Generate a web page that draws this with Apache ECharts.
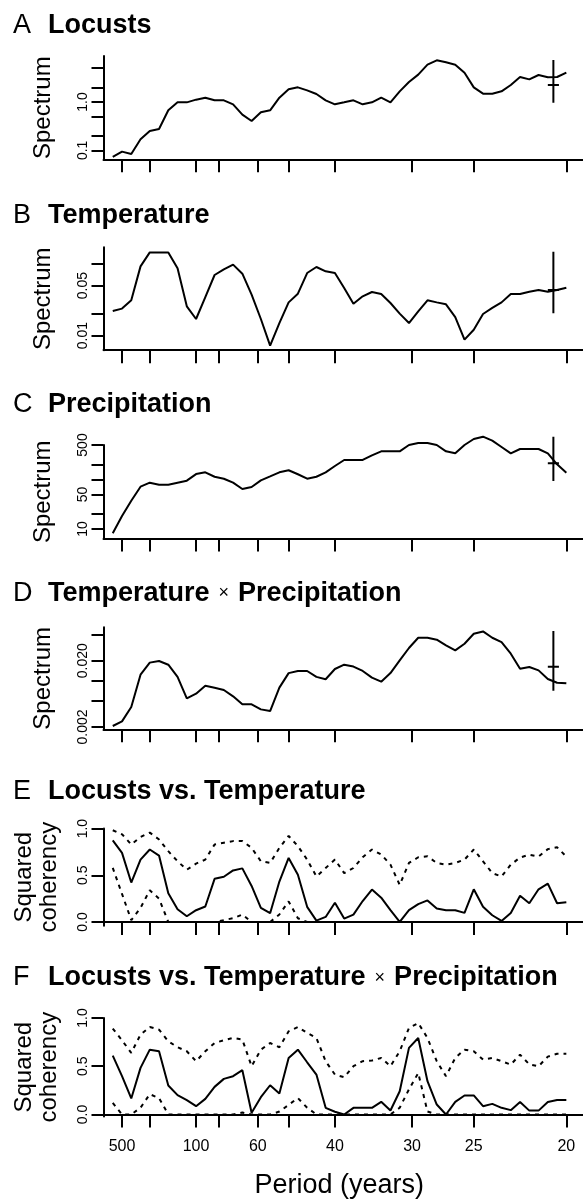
<!DOCTYPE html>
<html lang="en">
<head>
    <meta charset="UTF-8">
    <title>Spectra and coherency</title>
    <script src="https://cdn.jsdelivr.net/npm/echarts@6.0.0/dist/echarts.min.js"></script>
    <style>
        *{
            padding:0;
            margin:0;
        }
        html,body{
            width:583px;
            height:1201px;
            background:#fff;
        }
        #main{
            width:583px;
            height:1201px;
        }
    </style>
</head>
<body>
<div id="main"></div>
<script>
    // frequency (cycles / year) of each estimate
    var freq = [0.001,0.002,0.003,0.004,0.005,0.006,0.007,0.008,0.009,0.010,
        0.011,0.012,0.013,0.014,0.015,0.016,0.017,0.018,0.019,0.020,
        0.021,0.022,0.023,0.024,0.025,0.026,0.027,0.028,0.029,0.030,
        0.031,0.032,0.033,0.034,0.035,0.036,0.037,0.038,0.039,0.040,
        0.041,0.042,0.043,0.044,0.045,0.046,0.047,0.048,0.049,0.050];

    // period ticks on the x axis (years)
    var periodTicks = [500, 200, 100, 80, 60, 50, 40, 30, 25, 20];
    var periodLabels = [500, 100, 60, 40, 30, 25, 20];

    // A - locusts spectrum
    var locusts = [0.073,0.094,0.084,0.169,0.251,0.276,0.673,0.984,0.984,1.118,
        1.229,1.083,1.083,0.895,0.547,0.404,0.611,0.673,1.229,1.828,
        2.01,1.743,1.464,1.083,0.895,0.984,1.083,0.895,0.984,1.229,
        0.984,1.662,2.59,3.68,5.92,7.28,6.62,5.92,4.04,2.01,
        1.487,1.487,1.662,2.25,3.29,2.94,3.62,3.24,3.29,4.04];
    // B - temperature spectrum
    var temperature = [0.0221,0.0239,0.0312,0.0931,0.146,0.146,0.146,0.0873,0.0257,0.0171,
        0.0347,0.0705,0.0846,0.0984,0.0736,0.0374,0.0171,0.00724,0.0150,0.0292,
        0.0386,0.0751,0.0912,0.0793,0.0751,0.0464,0.0280,0.0355,0.0408,0.0383,
        0.0286,0.0203,0.0150,0.0219,0.0312,0.0292,0.0274,0.0182,0.00879,0.0121,
        0.0201,0.0244,0.0292,0.0383,0.0383,0.0412,0.0435,0.0412,0.0435,0.0469];
    // C - precipitation spectrum
    var precipitation = [8.2,18.3,37.4,71.8,86.5,78.8,78.8,86.5,94.9,129,
        140,114,104,86.5,64.4,70.7,96.4,116,140,154,
        128,104,114,140,188,249,249,249,309,372,
        372,372,500,548,548,500,372,339,500,661,
        737,612,456,339,415,415,415,339,203,138];
    // D - temperature x precipitation spectrum
    var tempPrecip = [0.00207,0.00243,0.0040,0.0123,0.0187,0.0198,0.0174,0.0114,0.00541,0.00637,
        0.0084,0.00784,0.00723,0.0058,0.00439,0.00439,0.00369,0.00348,0.00784,0.0130,
        0.0140,0.0140,0.0114,0.0105,0.0150,0.0174,0.0163,0.0140,0.0111,0.00965,
        0.0130,0.0202,0.0311,0.0444,0.0444,0.0415,0.0341,0.0286,0.0361,0.0510,
        0.0553,0.0444,0.0382,0.0255,0.0151,0.0161,0.0143,0.0106,0.0093,0.0091];

    // confidence crosses of A-D: [low, centre, high]
    var ciFreq = 0.0486;
    var ciBandwidth = 0.0012;
    var ciLocusts = [0.967, 2.25, 7.4];
    var ciTemperature = [0.0206, 0.0435, 0.149];
    var ciPrecipitation = [93.5, 213, 736];
    var ciTempPrecip = [0.00705, 0.0162, 0.0561];

    // E - squared coherency locusts vs temperature, with upper/lower bounds
    var cohLT = [0.874,0.740,0.422,0.668,0.776,0.711,0.307,0.137,0.061,0.126,
        0.166,0.462,0.484,0.552,0.574,0.386,0.152,0.094,0.433,0.686,
        0.505,0.162,0.014,0.054,0.206,0.036,0.079,0.224,0.347,0.260,
        0.126,0.0,0.126,0.191,0.231,0.144,0.126,0.126,0.097,0.350,
        0.162,0.072,0.011,0.097,0.28,0.20,0.35,0.41,0.20,0.21];
    var upperLT = [0.982,0.939,0.830,0.910,0.957,0.884,0.758,0.650,0.560,0.625,
        0.668,0.830,0.848,0.866,0.866,0.794,0.650,0.632,0.794,0.921,
        0.812,0.668,0.487,0.578,0.668,0.523,0.578,0.693,0.776,0.722,
        0.614,0.397,0.632,0.693,0.704,0.632,0.614,0.632,0.668,0.776,
        0.650,0.523,0.487,0.614,0.69,0.72,0.70,0.78,0.80,0.70];
    var lowerLT = [0.58,0.30,0.02,0.15,0.34,0.25,0,0,0,0,
        0,0,0.02,0.04,0.08,0,0,0,0.08,0.22,
        0.04,0,0,0,0,0,0,0,0,0,
        0,0,0,0,0,0,0,0,0,0,
        0,0,0,0,0,0,0,0,0,0];

    // F - squared coherency locusts vs temperature x precipitation
    var cohLTP = [0.610,0.397,0.166,0.483,0.672,0.655,0.300,0.200,0.148,0.086,
        0.162,0.286,0.369,0.397,0.459,0.017,0.179,0.303,0.217,0.586,
        0.672,0.541,0.414,0.069,0.028,0.0,0.069,0.069,0.069,0.131,
        0.041,0.241,0.690,0.793,0.345,0.103,0.0,0.131,0.197,0.197,
        0.086,0.110,0.069,0.045,0.13,0.04,0.04,0.13,0.15,0.15];
    var upperLTP = [0.890,0.769,0.638,0.828,0.907,0.879,0.759,0.697,0.655,0.552,
        0.655,0.741,0.769,0.793,0.776,0.50,0.672,0.741,0.697,0.862,
        0.907,0.845,0.793,0.552,0.414,0.386,0.50,0.552,0.559,0.586,
        0.50,0.655,0.897,0.948,0.793,0.552,0.397,0.586,0.672,0.655,
        0.569,0.586,0.552,0.517,0.62,0.52,0.50,0.60,0.63,0.63];
    var lowerLTP = [0.12,0,0,0.07,0.21,0.17,0,0,0,0,
        0,0,0,0,0.02,0,0,0,0.03,0.10,
        0.17,0.07,0,0,0,0,0,0,0,0,
        0,0.07,0.26,0.43,0.03,0,0,0,0,0,
        0,0,0,0,0,0,0,0,0,0];

    var FONT = '"Liberation Sans", Arial, Helvetica, sans-serif';

    function pairs(ys) {
        return freq.map(function (f, i) { return [f, ys[i]]; });
    }

    var panels = [
        {letter:'A', text:'{t|Locusts}', titleTop:12.5, top:56, height:103.3,
            type:'log', min:0.0652, max:8.95, ticks:[0.1,0.2,0.5,1,2,5], labels:[0.1,1], digits:1,
            name:'Spectrum', line:locusts, ci:ciLocusts},
        {letter:'B', text:'{t|Temperature}', titleTop:202.5, top:247.3, height:102.9,
            type:'log', min:0.00626, max:0.172, ticks:[0.01,0.02,0.05,0.1], labels:[0.01,0.05], digits:2,
            name:'Spectrum', line:temperature, ci:ciTemperature},
        {letter:'C', text:'{t|Precipitation}', titleTop:391, top:445, height:93.5,
            type:'log', min:6.43, max:500, ticks:[10,20,50,100,200,500], labels:[10,50,500], digits:0,
            name:'Spectrum', line:precipitation, ci:ciPrecipitation},
        {letter:'D', text:'{t|Temperature}{x|\u00d7}{t|Precipitation}', titleTop:580, top:627.3, height:102,
            type:'log', min:0.001846, max:0.0638, ticks:[0.002,0.005,0.01,0.02,0.05], labels:[0.002,0.02], digits:3,
            name:'Spectrum', line:tempPrecip, ci:ciTempPrecip},
        {letter:'E', text:'{t|Locusts vs. Temperature}', titleTop:778.5, top:828.6, height:97.1,
            type:'value', min:-0.04, max:1.0, ticks:[0,0.5,1], labels:[0,0.5,1], digits:1,
            name:'Squared\ncoherency', line:cohLT, upper:upperLT, lower:lowerLT},
        {letter:'F', text:'{t|Locusts vs. Temperature}{x|\u00d7}{t|Precipitation}', titleTop:964.5, top:1018, height:98.4,
            type:'value', min:-0.02, max:1.0, ticks:[0,0.5,1], labels:[0,0.5,1], digits:1,
            name:'Squared\ncoherency', line:cohLTP, upper:upperLTP, lower:lowerLTP}
    ];

    var tickFreq = periodTicks.map(function (p) { return 1 / p; });
    var labelFreq = periodLabels.map(function (p) { return 1 / p; });

    var axisStyle = {color:'#000', width:2};
    var titles = [], grids = [], xAxes = [], yAxes = [], series = [];

    panels.forEach(function (p, i) {
        titles.push({
            left: 13, top: p.titleTop, padding: 0,
            text: '{l|' + p.letter + '}' + p.text,
            textStyle: {
                rich: {
                    l: {fontSize:27, fontWeight:'normal', color:'#000', fontFamily:FONT, width:35},
                    t: {fontSize:27, fontWeight:'bold', color:'#000', fontFamily:FONT},
                    x: {fontSize:18, fontWeight:'normal', color:'#000', fontFamily:FONT, padding:[0,9,0,9]}
                }
            }
        });
        grids.push({left:103.5, right:0, top:p.top, height:p.height});
        var last = i === panels.length - 1;
        xAxes.push({
            gridIndex:i, type:'value', min:0, max:0.0518,
            axisLine:{show:true, lineStyle:axisStyle},
            axisTick:{show:true, customValues:tickFreq, length:13, lineStyle:axisStyle},
            axisLabel:{show:last, customValues:labelFreq, margin:22, fontSize:16, color:'#000', fontFamily:FONT,
                formatter:function (v) { return String(Math.round(1 / v)); }},
            splitLine:{show:false},
            name: last ? 'Period (years)' : '', nameLocation:'middle', nameGap:56,
            nameTextStyle:{fontSize:27, color:'#000', fontFamily:FONT, padding:[0, 8, 0, 0]}
        });
        yAxes.push({
            gridIndex:i, type:p.type, min:p.min, max:p.max,
            axisLine:{show:true, lineStyle:axisStyle},
            axisTick:{show:true, customValues:p.ticks, length:12, lineStyle:axisStyle},
            axisLabel:{customValues:p.labels, rotate:90, margin:13, fontSize:14, color:'#000', fontFamily:FONT,
                formatter:(function (d) { return function (v) { return Number(v).toFixed(d); }; })(p.digits)},
            splitLine:{show:false},
            name:p.name, nameLocation:'middle', nameGap: p.upper ? 42 : 48,
            nameTextStyle:{fontSize:24, lineHeight:25, color:'#000', fontFamily:FONT}
        });
        var base = {type:'line', xAxisIndex:i, yAxisIndex:i, showSymbol:false, clip:false,
            silent:true, z:3, lineStyle:{color:'#000', width:2}};
        series.push(Object.assign({}, base, {data:pairs(p.line)}));
        if (p.ci) {
            series.push(Object.assign({}, base, {data:[[ciFreq, p.ci[0]], [ciFreq, p.ci[2]]]}));
            series.push(Object.assign({}, base, {data:[[ciFreq - ciBandwidth / 2, p.ci[1]], [ciFreq + ciBandwidth / 2, p.ci[1]]]}));
        }
        if (p.upper) {
            // confidence bounds drawn dotted
            var dotted = {color:'#000', width:2, type:[4, 5]};
            series.push(Object.assign({}, base, {data:pairs(p.upper), lineStyle:dotted}));
            series.push(Object.assign({}, base, {data:pairs(p.lower), lineStyle:dotted}));
        }
    });

    var myChart = echarts.init(document.getElementById('main'));
    myChart.setOption({
        animation:false,
        backgroundColor:'#fff',
        title:titles,
        grid:grids,
        xAxis:xAxes,
        yAxis:yAxes,
        series:series
    });
</script>
</body>
</html>
